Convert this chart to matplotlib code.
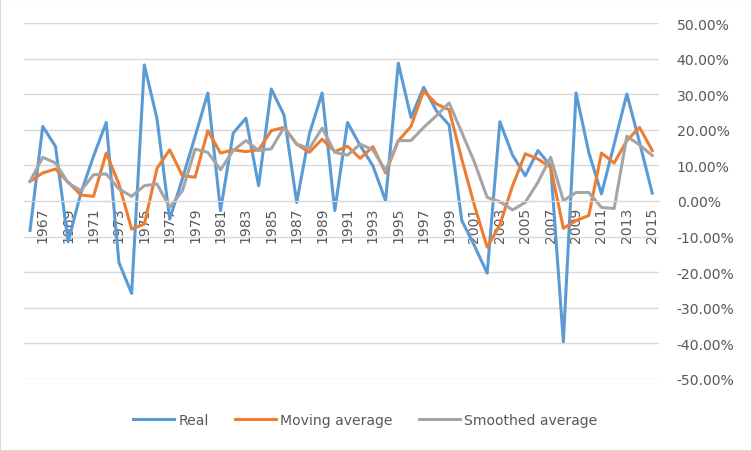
import numpy as np
import matplotlib
matplotlib.use("Agg")
import matplotlib.pyplot as plt
from matplotlib.ticker import FuncFormatter, MultipleLocator
from matplotlib.patches import Rectangle

years = list(range(1966, 2016))

# values in percent
real = [-8.3, 21.0, 15.4, -11.5, 2.2, 12.6, 22.1, -17.3, -26.0, 38.3,
        23.1, -5.1, 6.3, 18.2, 30.4, -2.7, 19.1, 23.3, 4.3, 31.5,
        24.2, -0.4, 18.9, 30.4, -2.7, 22.1, 15.6, 9.9, 0.1, 38.8,
        23.5, 32.0, 25.4, 21.4, -5.5, -12.6, -20.3, 22.3, 12.9, 7.1,
        14.2, 9.9, -39.6, 30.4, 13.7, 2.0, 16.0, 30.1, 16.5, 2.2]

moving = [5.5, 7.9, 9.0, 5.3, 1.7, 1.3, 13.5, 4.8, -7.9, -6.5,
          9.2, 14.4, 7.1, 6.7, 19.8, 13.5, 14.4, 13.9, 14.4, 19.8,
          20.7, 16.0, 13.7, 17.4, 13.9, 15.4, 12.0, 15.3, 7.9, 16.9,
          21.0, 31.0, 27.3, 25.7, 11.8, -1.3, -13.0, -6.7, 4.3, 13.3,
          11.8, 9.5, -7.7, -5.5, -4.1, 13.5, 10.7, 17.0, 20.7, 14.2]

smoothed = [5.5, 12.3, 10.7, 5.1, 2.9, 7.4, 7.6, 3.4, 1.3, 4.3,
            4.8, -1.8, 2.9, 14.6, 13.7, 8.8, 14.2, 17.0, 14.2, 14.7,
            20.7, 16.0, 14.8, 20.5, 13.7, 12.9, 16.0, 14.4, 8.5, 17.0,
            17.0, 20.7, 24.0, 27.6, 19.3, 10.9, 1.0, -0.2, -2.5, -0.4,
            5.3, 12.3, 0.1, 2.4, 2.4, -1.8, -2.1, 18.2, 15.8, 12.8]

tick_years = [str(y) for y in years[1::2]]

blue = "#5B9BD5"
orange = "#ED7D31"
grey = "#A5A5A5"
txt = "#595959"
grid = "#D9D9D9"

plt.rcParams['font.family'] = ['DejaVu Sans']

fig = plt.figure(figsize=(7.52, 4.52), dpi=100)
ax = fig.add_axes([0.0315, 0.160, 0.8443, 0.7862])

x = np.arange(len(years))
ax.plot(x, real, color=blue, lw=2.2, label="Real", solid_joinstyle="round")
ax.plot(x, moving, color=orange, lw=2.2, label="Moving average", solid_joinstyle="round")
ax.plot(x, smoothed, color=grey, lw=2.2, label="Smoothed average", solid_joinstyle="round")

# axis line crosses at 0 (set before the tick labels, it resets them)
ax.spines["bottom"].set_position(("data", 0))
for s in ["top", "left", "right"]:
    ax.spines[s].set_visible(False)
ax.spines["bottom"].set_color(grid)

ax.set_xlim(-0.5, len(years) - 0.5)
ax.set_ylim(-50, 50)
ax.yaxis.set_major_locator(MultipleLocator(10))
ax.yaxis.set_major_formatter(FuncFormatter(lambda v, p: "%.2f%%" % v))
ax.yaxis.tick_right()
ax.grid(axis="y", color=grid, lw=1)
ax.set_axisbelow(True)

ax.set_xticks(x[1::2])
ax.set_xticklabels(tick_years)
ax.tick_params(axis="both", length=0, labelsize=10.1, colors=txt)
ax.tick_params(axis="y", pad=13)
ax.tick_params(axis="x", pad=4, labelrotation=90)
for lbl in ax.get_xticklabels():
    lbl.set_va("top")
    lbl.set_ha("center")

fig.legend(loc="center", bbox_to_anchor=(0.486, 0.068), ncol=3, frameon=False,
           fontsize=10.1, handlelength=2.9, handletextpad=0.3, columnspacing=1.9,
           labelcolor=txt)

fig.patches.append(Rectangle((0, 0), 1, 1, transform=fig.transFigure, fill=False,
                             edgecolor=grid, lw=1.5))

fig.savefig("out.png", dpi=100)
